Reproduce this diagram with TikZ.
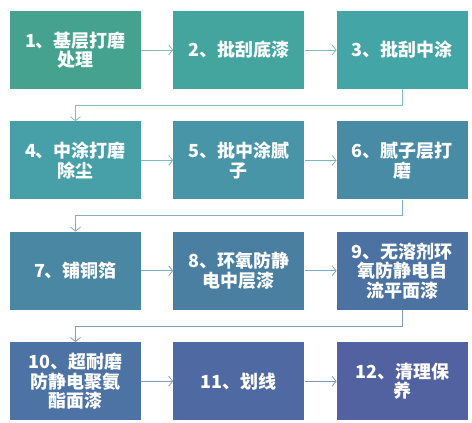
\documentclass[tikz,border=0pt]{standalone}
\usepackage{fontspec}
\usepackage{xcolor}
\usepackage{tikz}
\usetikzlibrary{arrows.meta,positioning}
\newfontfamily\cjk{Noto Sans CJK SC}
\definecolor{stepc1}{HTML}{44A28E}
\definecolor{stepc2}{HTML}{44A59F}
\definecolor{stepc3}{HTML}{44A5A7}
\definecolor{stepc4}{HTML}{47A0A8}
\definecolor{stepc5}{HTML}{4795A6}
\definecolor{stepc6}{HTML}{488BA4}
\definecolor{stepc7}{HTML}{4987A3}
\definecolor{stepc8}{HTML}{4A7FA2}
\definecolor{stepc9}{HTML}{4B72A0}
\definecolor{stepc10}{HTML}{4D73A5}
\definecolor{stepc11}{HTML}{4F6AA3}
\definecolor{stepc12}{HTML}{5262A0}
\tikzset{
  procbox/.style={
    fill=#1,
    draw=none,
    text=white,
    align=center,
    minimum width=131pt,
    minimum height=78pt,
    inner sep=2pt,
    font=\cjk\bfseries\fontsize{18}{19.5}\selectfont
  },
  flowarrow/.style={
    -{Straight Barb[length=4pt,width=10pt]},
    line width=0.8pt,
    draw=#1!70
  }
}
\begin{document}
\begin{tikzpicture}[node distance=32pt and 32pt]
    \useasboundingbox (0,0) rectangle (472pt,-423pt);
    \node[procbox=stepc1] (s1) at (75.5pt,-50pt) {1、基层打磨\\处理};
    \node[procbox=stepc2, right=of s1] (s2) {2、批刮底漆};
    \node[procbox=stepc3, right=of s2] (s3) {3、批刮中涂};
    \node[procbox=stepc4, below=of s1] (s4) {4、中涂打磨\\除尘};
    \node[procbox=stepc5, right=of s4] (s5) {5、批中涂腻\\子};
    \node[procbox=stepc6, right=of s5] (s6) {6、腻子层打\\磨};
    \node[procbox=stepc7, below=of s4] (s7) {7、铺铜箔};
    \node[procbox=stepc8, right=of s7] (s8) {8、环氧防静\\电中层漆};
    \node[procbox=stepc9, right=of s8] (s9) {9、无溶剂环\\氧防静电自\\流平面漆};
    \node[procbox=stepc10, below=of s7] (s10) {10、超耐磨\\防静电聚氨\\酯面漆};
    \node[procbox=stepc11, right=of s10] (s11) {11、划线};
    \node[procbox=stepc12, right=of s11] (s12) {12、清理保\\养};
    \draw[flowarrow=stepc1] (s1) -- (s2);
    \draw[flowarrow=stepc2] (s2) -- (s3);
    \draw[flowarrow=stepc3] (s3.south) -- ++(0,-16pt) -| (s4.north);
    \draw[flowarrow=stepc4] (s4) -- (s5);
    \draw[flowarrow=stepc5] (s5) -- (s6);
    \draw[flowarrow=stepc6] (s6.south) -- ++(0,-16pt) -| (s7.north);
    \draw[flowarrow=stepc7] (s7) -- (s8);
    \draw[flowarrow=stepc8] (s8) -- (s9);
    \draw[flowarrow=stepc9] (s9.south) -- ++(0,-16pt) -| (s10.north);
    \draw[flowarrow=stepc10] (s10) -- (s11);
    \draw[flowarrow=stepc11] (s11) -- (s12);
  \end{tikzpicture}
\end{document}
